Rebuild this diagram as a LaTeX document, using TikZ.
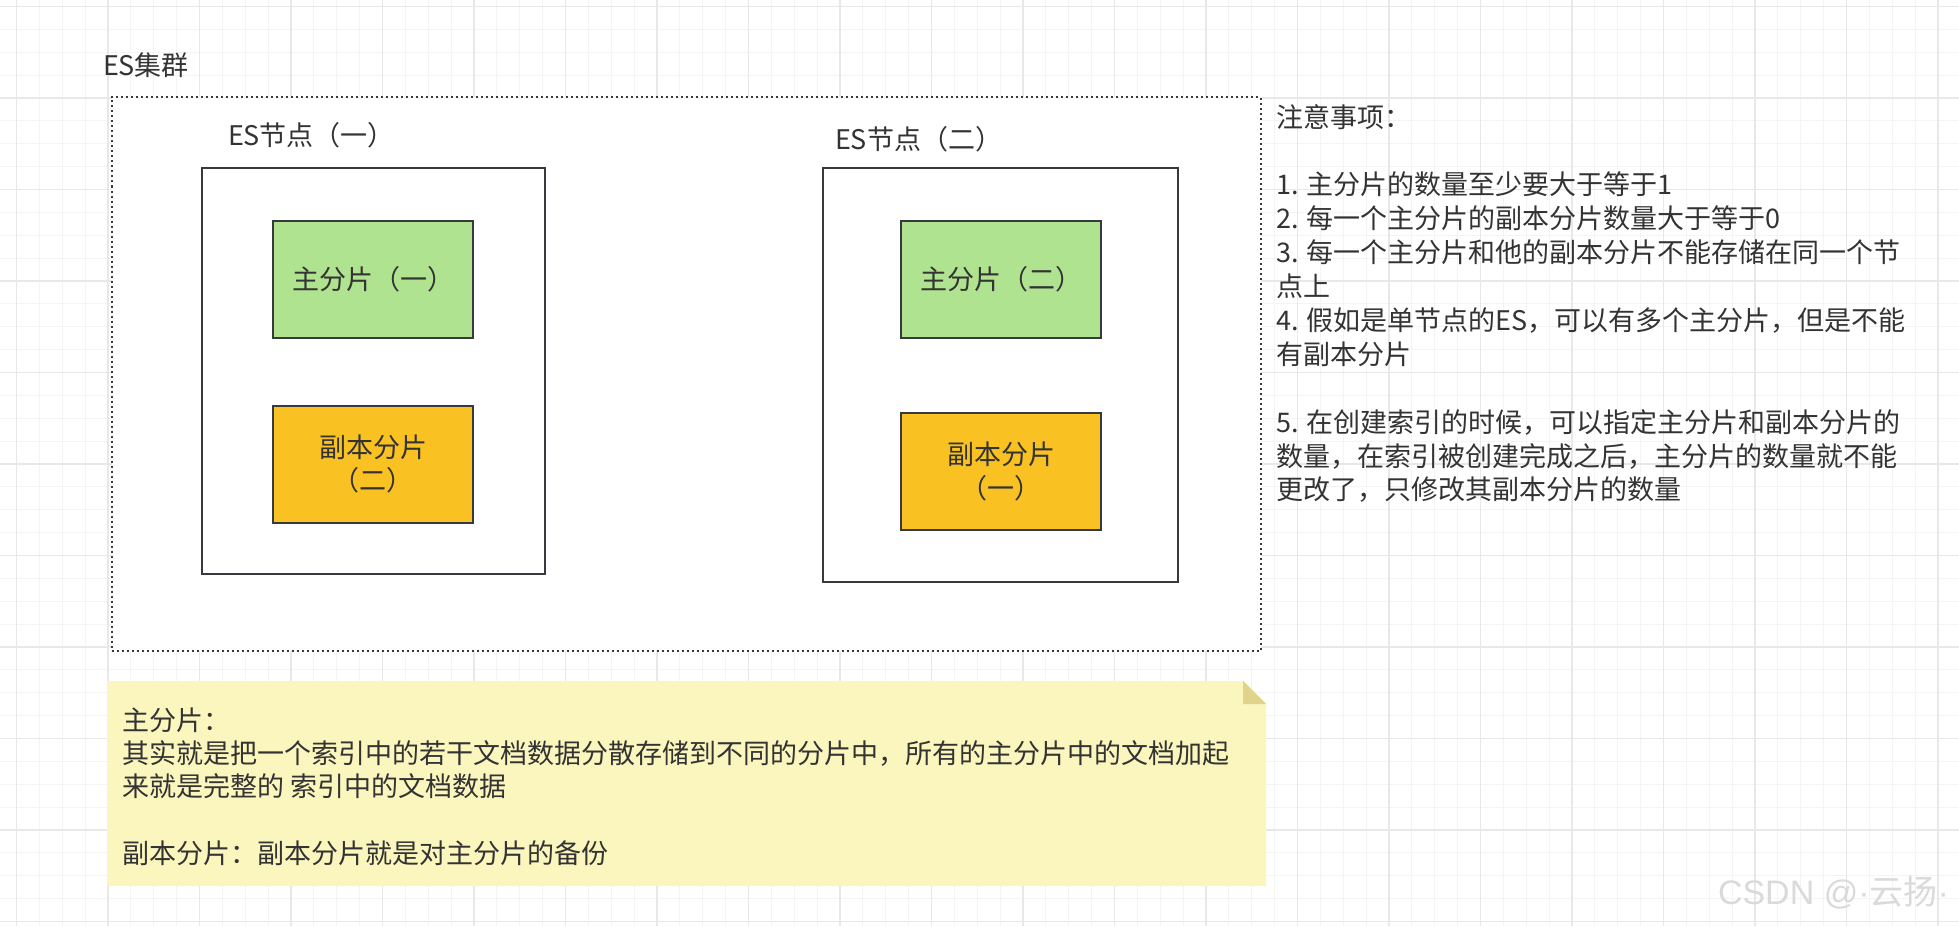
\documentclass[tikz,border=0pt]{standalone}
\usepackage{fontspec}
\setmainfont{Noto Sans CJK SC}
\newfontfamily\wmfont{Liberation Sans}
\definecolor{txt}{RGB}{51,51,51}
\definecolor{bord}{RGB}{54,57,61}
\definecolor{grn}{RGB}{176,227,143}
\definecolor{org}{RGB}{249,194,34}
\definecolor{notey}{RGB}{251,246,189}
\definecolor{foldc}{RGB}{224,211,139}
\definecolor{gminor}{RGB}{244,244,244}
\definecolor{gmajor}{RGB}{232,232,232}
\definecolor{wm}{RGB}{218,218,218}
\begin{document}
\begin{tikzpicture}[x=1pt,y=-1pt,
  every node/.style={text=txt, inner sep=0pt, outer sep=0pt, font=\fontsize{27}{33.9}\selectfont},
  gminorline/.style={draw=gminor, line width=1pt},
  gmajorline/.style={draw=gmajor, line width=1.6pt},
  lbl/.style={anchor=base west},
  cluster/.style={draw=bord, fill=white, line width=2pt, dash pattern=on 2pt off 3pt},
  esnode/.style={draw=bord, fill=white, line width=2pt},
  primary/.style={draw=bord, fill=grn, line width=2pt, minimum width=200pt, minimum height=117pt},
  replica/.style={draw=bord, fill=org, line width=2pt, minimum width=200pt, minimum height=117pt, align=center},
  notebg/.style={fill=notey},
  notefold/.style={fill=foldc}]
\useasboundingbox (0,0) rectangle (1959,926);
\fill[white] (0,0) rectangle (1959,926);
% background grid
\foreach \k in {0,...,84} {\pgfmathsetmacro\xx{16.5+\k*22.875}\draw[gminorline] (\xx,0) -- (\xx,926);}
\foreach \k in {0,...,40} {\pgfmathsetmacro\yy{6.5+\k*22.875}\draw[gminorline] (0,\yy) -- (1959,\yy);}
\foreach \k in {0,...,21} {\pgfmathsetmacro\xx{16.5+\k*91.5}\draw[gmajorline] (\xx,0) -- (\xx,926);}
\foreach \k in {0,...,10} {\pgfmathsetmacro\yy{6.5+\k*91.5}\draw[gmajorline] (0,\yy) -- (1959,\yy);}

% cluster
\node[lbl] (cltitle) at (103,75) {ES集群};
\node[cluster, minimum width=1149pt, minimum height=553.5pt] (cluster) at (686,373.75) {};

% ES node 1
\node[lbl] (n1title) at (228,145) {ES节点（一）};
\node[esnode, minimum width=343.5pt, minimum height=406pt] (n1) at (373.25,371) {};
\node[primary] (p1) at (373,279) {主分片（一）};
\node[replica] (r2) at (373,464) {副本分片\\（二）};

% ES node 2
\node[lbl] (n2title) at (835,149.5) {ES节点（二）};
\node[esnode, minimum width=355pt, minimum height=413.5pt] (n2) at (1000.5,374.75) {};
\node[primary] (p2) at (1001,279) {主分片（二）};
\node[replica] (r1) at (1001,471.75) {副本分片\\（一）};

% notes
\node[lbl] (notes) at (1276,127) {\parbox[t]{680pt}{\raggedright
注意事项：\\
\mbox{}\\
1. 主分片的数量至少要大于等于1\\
2. 每一个主分片的副本分片数量大于等于0\\
3. 每一个主分片和他的副本分片不能存储在同一个节\\
点上\\
4. 假如是单节点的ES，可以有多个主分片，但是不能\\
有副本分片\\
\mbox{}\\
5. 在创建索引的时候，可以指定主分片和副本分片的\\
数量，在索引被创建完成之后，主分片的数量就不能\\
更改了，只修改其副本分片的数量}};

% yellow note
\fill[notebg] (107,681) -- (1243,681) -- (1266,704) -- (1266,886) -- (107,886) -- cycle;
\fill[notefold] (1243,681) -- (1243,704) -- (1266,704) -- cycle;
\node[lbl] (memo) at (122,730) {\parbox[t]{1140pt}{\fontsize{27}{33.4}\selectfont\raggedright
主分片：\\
其实就是把一个索引中的若干文档数据分散存储到不同的分片中，所有的主分片中的文档加起\\
来就是完整的 索引中的文档数据\\
\mbox{}\\
副本分片：副本分片就是对主分片的备份}};

% watermark
\node[lbl, text=wm, font=\fontsize{34}{40}\selectfont] (wmark) at (1718,904) {{\wmfont CSDN @·}云扬{\wmfont ·}};
\end{tikzpicture}
\end{document}
